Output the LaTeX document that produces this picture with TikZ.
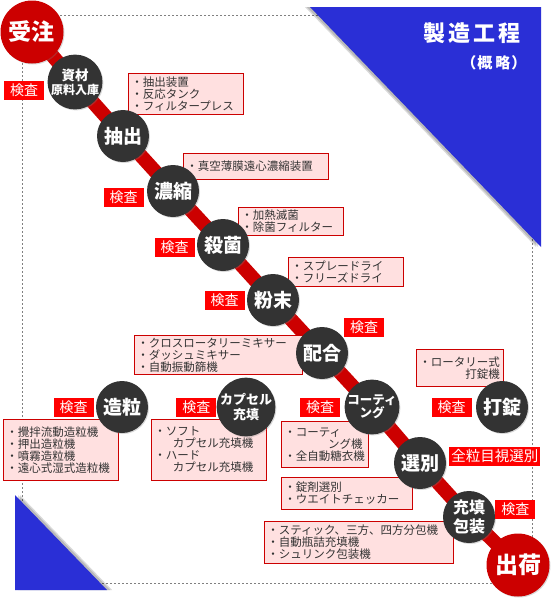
\documentclass[tikz,border=0pt]{standalone}
\usepackage{fontspec}
\setmainfont{Noto Sans CJK JP}
\usetikzlibrary{positioning, backgrounds, shadows}
\definecolor{routered}{HTML}{CC0000}
\definecolor{checkred}{HTML}{FF0000}
\definecolor{stagegray}{HTML}{333333}
\definecolor{notepink}{HTML}{FFE0E0}
\definecolor{titleblue}{HTML}{2A2FD6}

\begin{document}
\begin{tikzpicture}[
  x=1pt, y=-1pt,
  stage/.style={circle, fill=stagegray, text=white, minimum size=52pt, inner sep=0pt, align=center,
    font=\bfseries\fontsize{19}{19}\selectfont, drop shadow={opacity=0.3, shadow xshift=1pt, shadow yshift=-1pt}},
  endpoint/.style={stage, fill=routered, minimum size=63pt, font=\bfseries\fontsize{23}{23}\selectfont},
  check/.style={fill=checkred, text=white, font=\fontsize{14}{14}\selectfont, minimum width=40pt, minimum height=19pt, inner xsep=2pt, inner ysep=0pt},
  note/.style={draw=routered, fill=notepink, text=stagegray, line width=0.8pt, align=left, anchor=north west,
    font=\fontsize{11.5}{12}\selectfont, inner xsep=3pt, inner ysep=2pt},
  route/.style={draw=routered, line width=14pt},
  tri/.style={fill=titleblue},
  trishadow/.style={fill=black, opacity=0.15}
]
  \useasboundingbox (0,0) rectangle (550,600);
  % frame and corner triangles
  \draw[gray, dash pattern=on 2pt off 2pt, line width=0.6pt] (22,15) rectangle (532,583);
  \fill[trishadow] (305,7) -- (536,7) -- (536,247) -- cycle;
  \fill[trishadow] (307,7) -- (538,7) -- (538,247) -- cycle;
  \fill[tri] (310,7) -- (541,7) -- (541,247) -- cycle;
  \fill[trishadow] (20,495) -- (20,590) -- (112,590) -- cycle;
  \fill[trishadow] (18,495) -- (18,590) -- (110,590) -- cycle;
  \fill[tri] (15,495) -- (15,590) -- (107,590) -- cycle;
  \node[anchor=east, text=white, font=\bfseries\fontsize{22}{22}\selectfont] (title) at (524,33) {製\kern3pt 造\kern3pt 工\kern3pt 程};
  \node[anchor=east, text=white, font=\bfseries\fontsize{15}{15}\selectfont] (subtitle) at (530,63) {（\kern1pt 概\kern3pt 略\kern1pt ）};

  % equipment notes
  \node[note, text width=109pt, minimum height=41pt] (extractnote) at (128,73) {・抽出装置\\・反応タンク\\・フィルタープレス};
  \node[note, text width=139pt, minimum height=26pt] (concnote) at (183,153) {・真空薄膜遠心濃縮装置};
  \node[note, text width=99pt, minimum height=28pt] (sterinote) at (238,207) {・加熱滅菌\\・除菌フィルター};
  \node[note, text width=109pt, minimum height=29pt] (powdernote) at (288,257) {・スプレードライ\\・フリーズドライ};
  \node[note, text width=162pt, minimum height=39pt] (blendnote) at (134,335) {・クロスロータリーミキサー\\・ダッシュミキサー\\・自動振動篩機};
  \node[note, text width=81pt, minimum height=37pt] (tabletnote) at (416,349) {・ロータリー式\\\hspace*{4em}打錠機};
  \node[note, text width=109pt, minimum height=61pt] (granote) at (3,419) {・攪拌流動造粒機\\・押出造粒機\\・噴霧造粒機\\・遠心式湿式造粒機};
  \node[note, text width=109pt, minimum height=61pt] (capnote) at (151,419) {・ソフト\\\hspace*{1.6em}カプセル充填機\\・ハード\\\hspace*{1.6em}カプセル充填機};
  \node[note, text width=81pt, minimum height=46pt] (coatnote) at (281,421) {・コーティ\\\hspace*{3.8em}ング機\\・全自動糖衣機};
  \node[note, text width=125pt, minimum height=32pt] (selnote) at (281,477) {・錠剤選別\\・ウエイトチェッカー};
  \node[note, text width=183pt, minimum height=42pt] (packnote) at (264,521) {・スティック、三方、四方分包機\\・自動瓶詰充填機\\・シュリンク包装機};

  % process steps
  \node[endpoint] (order) at (32,32) {受注};
  \node[stage, font=\bfseries\fontsize{12}{14}\selectfont] (stock) at (75,82) {{\fontsize{13.5}{14}\selectfont 資材}\\原料入庫};
  \node[stage] (extract) at (123,136) {抽出};
  \node[stage] (concentrate) at (173,191) {濃縮};
  \node[stage] (sterilize) at (223,245) {殺菌};
  \node[stage] (powder) at (273,300) {粉末};
  \node[stage] (blend) at (322,353) {配合};
  \node[stage, font=\bfseries\fontsize{12.5}{12}\selectfont] (coat) at (372,407) {コーティ\\ング};
  \node[stage] (select) at (420,463) {選別};
  \node[stage, font=\bfseries\fontsize{16}{19}\selectfont] (pack) at (469,517) {充填\\包装};
  \node[endpoint] (ship) at (518,565) {出荷};
  \node[stage] (granulate) at (122,407) {造粒};
  \node[stage, font=\bfseries\fontsize{13}{15}\selectfont] (capsule) at (246,407) {カプセル\\充填};
  \node[stage] (tablet) at (502,407) {打錠};

  % inspection tags
  \node[check, left=3pt of stock, yshift=-8pt] (stockchk) {検査};
  \node[check, left=3pt of concentrate, yshift=-6pt] (concchk) {検査};
  \node[check, left=2pt of sterilize, yshift=-2pt] (sterichk) {検査};
  \node[check, left=2pt of powder] (powderchk) {検査};
  \node[check] (blendchk) at (364,327) {検査};
  \node[check, left=4pt of coat] (coatchk) {検査};
  \node[check, left=2pt of granulate] (granchk) {検査};
  \node[check, left=0pt of capsule] (capchk) {検査};
  \node[check, left=4pt of tablet] (tabletchk) {検査};
  \node[check, right=3pt of select, yshift=7pt, font=\fontsize{14.5}{14}\selectfont] (selchk) {全粒目視選別};
  \node[check, right=0pt of pack, yshift=8pt] (packchk) {検査};

  \begin{scope}[on background layer]
    \draw[route] (order.center) -- (stock.center) -- (extract.center) -- (concentrate.center)
      -- (sterilize.center) -- (powder.center) -- (blend.center) -- (coat.center)
      -- (select.center) -- (pack.center) -- (ship.center);
  \end{scope}
\end{tikzpicture}
\end{document}
